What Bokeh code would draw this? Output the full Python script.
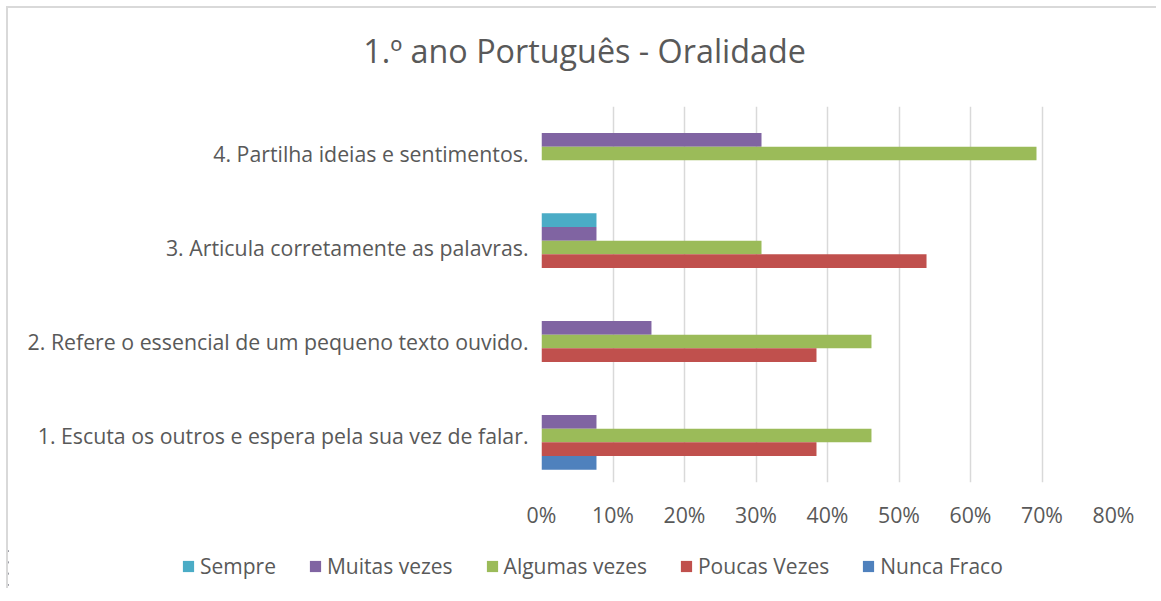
from bokeh.plotting import figure
from bokeh.models import (ColumnDataSource, FactorRange, Range1d, NumeralTickFormatter,
                          FixedTicker, Legend, LegendItem, Label)
from bokeh.layouts import column
from bokeh.transform import dodge
from bokeh.embed import file_html
from bokeh.resources import INLINE

# ---- data ----
categories = [
    "1. Escuta os outros e espera pela sua vez de falar.",
    "2. Refere o essencial de um pequeno texto ouvido.",
    "3. Articula corretamente as palavras.",
    "4. Partilha ideias e sentimentos.",
]
series_names = ["Sempre", "Muitas vezes", "Algumas vezes", "Poucas Vezes", "Nunca Fraco"]
sempre = [0.0, 0.0, 0.0769, 0.0]
muitas_vezes = [0.0769, 0.1538, 0.0769, 0.3077]
algumas_vezes = [0.4615, 0.4615, 0.3077, 0.6923]
poucas_vezes = [0.3846, 0.3846, 0.5385, 0.0]
nunca_fraco = [0.0769, 0.0, 0.0, 0.0]
x_ticks = [0, 0.1, 0.2, 0.3, 0.4, 0.5, 0.6, 0.7, 0.8]
title_text = "1.º ano Português - Oralidade"

colors = ["#4BACC6", "#8064A2", "#9BBB59", "#C0504D", "#4F81BD"]
text_color = "#595959"
FONT = "Open Sans"
W = 1150

src = ColumnDataSource(dict(cat=categories, s0=sempre, s1=muitas_vezes, s2=algumas_vezes,
                            s3=poucas_vezes, s4=nunca_fraco))


def blank(fig):
    fig.frame_align = False
    fig.grid.grid_line_color = None
    fig.outline_line_color = None
    fig.border_fill_color = "white"
    fig.background_fill_color = "white"


# ---- header strip with the chart title (pixel-sized ranges) ----
hd = figure(width=W, height=98, x_range=Range1d(0, W), y_range=Range1d(0, 98),
            output_backend="svg", toolbar_location=None, x_axis_type=None, y_axis_type=None,
            min_border=0, min_border_left=0, min_border_right=0, min_border_top=0,
            min_border_bottom=0)
blank(hd)
hd.add_layout(Label(x=576, y=57, text=title_text, text_align="center", text_baseline="alphabetic",
                    text_font=FONT, text_font_size="32.3px", text_color=text_color))

# ---- main bar chart ----
p = figure(width=W, height=439, y_range=FactorRange(factors=categories),
           x_range=Range1d(0, 0.8), output_backend="svg", toolbar_location=None,
           min_border_left=533, min_border_right=45, min_border_top=0, min_border_bottom=63)
p.frame_align = False

bar_h = 0.146
offsets = [2 * bar_h, bar_h, 0.0, -bar_h, -2 * bar_h]
for i, name in enumerate(series_names):
    p.hbar(y=dodge("cat", offsets[i], range=p.y_range), left=0, right="s%d" % i,
           height=bar_h, source=src, fill_color=colors[i], line_color=None)

p.xaxis.ticker = FixedTicker(ticks=x_ticks)
p.xaxis.formatter = NumeralTickFormatter(format="0%")
for ax in (p.xaxis, p.yaxis):
    ax.axis_line_color = None
    ax.major_tick_line_color = None
    ax.minor_tick_line_color = None
    ax.major_tick_out = 0
    ax.minor_tick_out = 0
    ax.major_label_text_font = FONT
    ax.major_label_text_font_size = "21.3px"
    ax.major_label_text_color = text_color
p.yaxis.major_label_standoff = 13
p.xaxis.major_label_standoff = 17

p.xgrid.grid_line_color = "#D9D9D9"
p.xgrid.grid_line_width = 1.5
p.ygrid.grid_line_color = None
p.outline_line_color = None
p.background_fill_color = "white"
p.border_fill_color = "white"

# ---- legend strip: same series, x range chosen so that no bar falls in view ----
lg = figure(width=W, height=45, x_range=Range1d(1, 2), y_range=FactorRange(factors=categories),
            output_backend="svg", toolbar_location=None, x_axis_type=None, y_axis_type=None,
            min_border=0, min_border_left=0, min_border_right=0, min_border_top=0,
            min_border_bottom=0)
blank(lg)
legend_renderers = [lg.hbar(y="cat", right="s%d" % i, left=0, height=bar_h, source=src,
                            fill_color=c, line_color=None) for i, c in enumerate(colors)]
legend = Legend(items=[LegendItem(label=n, renderers=[r]) for n, r in zip(series_names, legend_renderers)],
                orientation="horizontal", location=(173, 10),
                glyph_width=14, glyph_height=14, label_standoff=5, spacing=32,
                padding=0, margin=0, border_line_color=None, background_fill_alpha=0,
                label_text_font=FONT, label_text_font_size="21px", label_text_color=text_color)
lg.add_layout(legend, "center")

layout = column(hd, p, lg, spacing=0)
layout.styles = {"margin-left": "8px", "margin-top": "8px", "box-shadow": "-2px -2px 0 0 #D9D9D9"}

open("out.html", "w").write(file_html(layout, INLINE))
